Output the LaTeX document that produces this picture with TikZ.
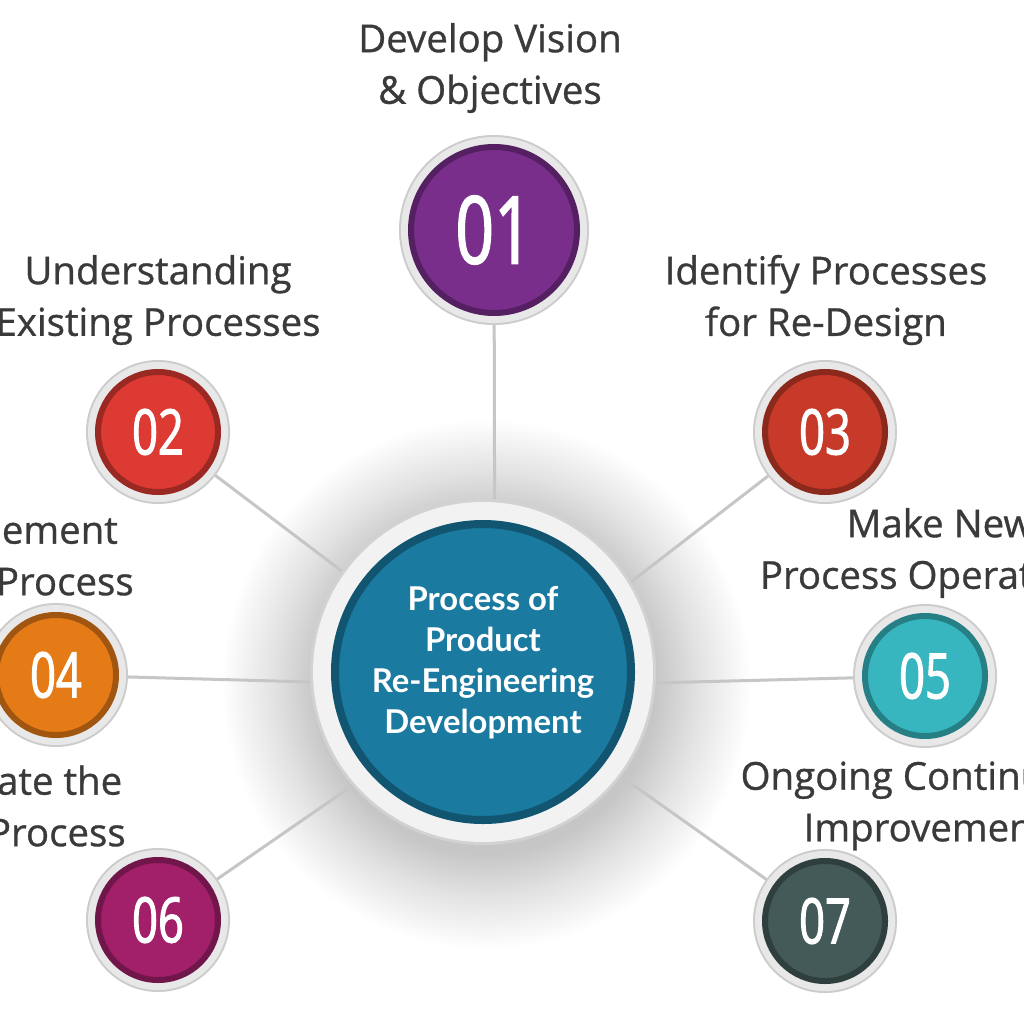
\documentclass[tikz,border=0pt]{standalone}
\usepackage{fontspec}
\usepackage{tikz}
\usetikzlibrary{backgrounds}

\newfontfamily\labelfont[FakeBold=0.8]{Open Sans}
\newfontfamily\numfont[FakeStretch=0.72,FakeBold=1.6]{Open Sans}
\newfontfamily\hubfont{Lato}

\definecolor{stepA}{HTML}{7A2E8C}
\definecolor{stepB}{HTML}{DC3A33}
\definecolor{stepC}{HTML}{C73A2A}
\definecolor{stepD}{HTML}{E57B17}
\definecolor{stepE}{HTML}{38B6BF}
\definecolor{stepF}{HTML}{A21F6A}
\definecolor{stepG}{HTML}{435A59}
\definecolor{hubC}{HTML}{1A7AA0}
\definecolor{labelC}{HTML}{3A3A3A}
\definecolor{haloC}{HTML}{C6C6C6}
\definecolor{haloM}{HTML}{E2E2E2}
\pgfdeclareradialshading{halo}{\pgfpoint{0bp}{0bp}}{color(0bp)=(haloC); color(16bp)=(haloC); color(20bp)=(haloM); color(25bp)=(white); color(50bp)=(white)}

\begin{document}
\begin{tikzpicture}[
        x=0.015cm, y=-0.015cm,
        every node/.style={align=center},
        stage/.style={circle, fill=#1, draw=#1!70!black, line width=0.09cm, minimum size=1.8cm, inner sep=0pt,
            preaction={draw=gray!40, line width=0.36cm}, preaction={draw=gray!18, line width=0.30cm},
            text=white, font=\numfont\fontsize{26.8}{30}\selectfont},
        bigstage/.style={minimum size=2.49cm, font=\numfont\fontsize{40}{44}\selectfont},
        hub/.style={circle, fill=hubC, draw=hubC!70!black, line width=0.12cm, minimum size=4.44cm, inner sep=0pt,
            preaction={draw=gray!35, line width=0.75cm}, preaction={draw=gray!10, line width=0.66cm},
            text=white, font=\hubfont\bfseries\fontsize{14}{17.4}\selectfont},
        stagetext/.style={text=labelC, inner sep=0pt, font=\labelfont\fontsize{16.4}{22}\selectfont},
        spoke/.style={draw=gray!45, line width=0.045cm}
    ]

    \useasboundingbox (0,0) rectangle (1024,1024);
    \clip (0,0) rectangle (1024,1024);

    % Nodes
    \coordinate (core) at (495,687);
    \node (centre)[hub] at (483,672) {Process of\\ Product\\ Re-Engineering\\ Development\\[-7pt]};

    \node (s01)[stage=stepA, bigstage] at (494,230) {01};
    \node (s02)[stage=stepB] at (158,432) {02};
    \node (s03)[stage=stepC] at (825,432) {03};
    \node (s04)[stage=stepD] at (56,675) {04};
    \node (s05)[stage=stepE] at (925,676) {05};
    \node (s06)[stage=stepF] at (158,920) {06};
    \node (s07)[stage=stepG] at (825,921) {07};

    \node (t01)[stagetext] at (490,68) {Develop Vision\\ \& Objectives};
    \node (t02)[stagetext] at (158,300) {Understanding\\ Existing Processes};
    \node (t03)[stagetext] at (826,300) {Identify Processes\\ for Re-Design};
    \node (t04)[stagetext] at (20,555) {Implement\\ New Process};
    \node (t05)[stagetext] at (940,553) {Make New\\ Process Operational};
    \node (t06)[stagetext] at (12,806) {Evaluate the\\ New Process};
    \node (t07)[stagetext] at (925,806) {Ongoing Continuous\\ Improvement};

    % Edges
    \begin{pgfonlayer}{background}
        \fill[white] (0,0) rectangle (1024,1024);
        \shade[shading=halo] (486,684) circle (265);
        \foreach \s in {01,02,03,04,05,06,07}
            \draw[spoke] (core) -- (s\s);
    \end{pgfonlayer}

\end{tikzpicture}
\end{document}
